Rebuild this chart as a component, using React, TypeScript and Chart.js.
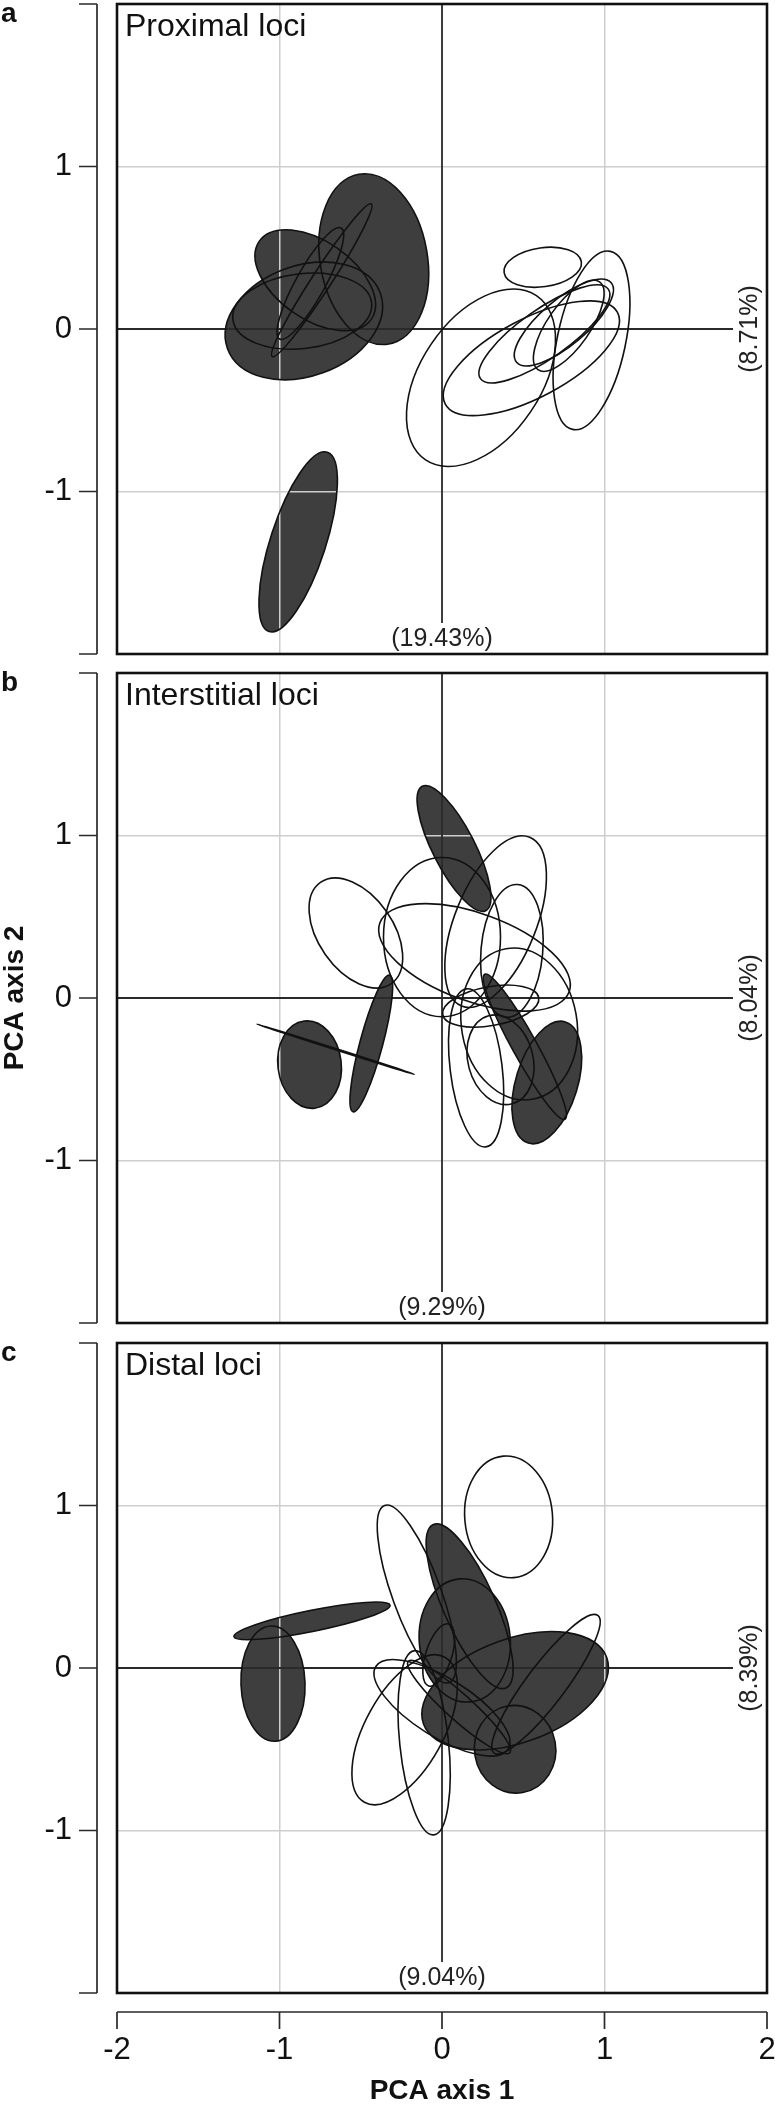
import React, { useEffect, useRef } from "react";
import { Chart, registerables } from "chart.js";

Chart.register(...registerables);

// Each ellipse: [centre on axis 1, centre on axis 2, semi-axis a, semi-axis b, angle of a (degrees)]
type Ellipse = [number, number, number, number, number];

const PANEL_LETTERS = ["a", "b", "c"];
const PANEL_TITLES = ["Proximal loci", "Interstitial loci", "Distal loci"];
const AXIS1_SHARE = ["(19.43%)", "(9.29%)", "(9.04%)"];
const AXIS2_SHARE = ["(8.71%)", "(8.04%)", "(8.39%)"];
const AXIS_TICKS = [-2, -1, 0, 1, 2];
const Y_LABELED_TICKS = [-1, 0, 1];
const X_AXIS_TITLE = "PCA axis 1";
const Y_AXIS_TITLE = "PCA axis 2";

const proximalFilled: Ellipse[] = [
  [-0.42, 0.43, 0.53, 0.33, 100],
  [-0.85, 0.05, 0.5, 0.34, 20],
  [-0.78, 0.3, 0.42, 0.24, -35],
  [-0.86, 0.11, 0.43, 0.23, 7],
  [-0.74, 0.3, 0.56, 0.06, 57],
  [-0.81, 0.28, 0.39, 0.09, 61],
  [-0.885, -1.31, 0.58, 0.17, 72],
];
const proximalOpen: Ellipse[] = [
  [0.24, -0.3, 0.61, 0.37, 56],
  [0.55, -0.18, 0.6, 0.24, 28],
  [0.63, -0.03, 0.48, 0.15, 35],
  [0.62, 0.38, 0.24, 0.12, 8],
  [0.92, -0.07, 0.56, 0.21, 78],
  [0.75, 0.04, 0.38, 0.14, 40],
  [0.78, 0.02, 0.33, 0.13, 55],
];

const interstitialFilled: Ellipse[] = [
  [0.074, 0.92, 0.43, 0.13, 117],
  [-0.815, -0.41, 0.27, 0.195, 97],
  [-0.435, -0.28, 0.435, 0.07, 75],
  [0.51, -0.3, 0.51, 0.075, 119],
  [0.645, -0.52, 0.39, 0.19, 73],
  [-0.655, -0.315, 0.51, 0.004, -17.7],
];
const interstitialOpen: Ellipse[] = [
  [-0.53, 0.4, 0.38, 0.23, 125],
  [0.0, 0.375, 0.49, 0.36, 90],
  [0.2, 0.25, 0.62, 0.27, -20],
  [0.33, 0.47, 0.56, 0.25, 68],
  [0.43, 0.29, 0.41, 0.19, 85],
  [0.475, -0.16, 0.47, 0.355, 100],
  [0.21, -0.43, 0.49, 0.16, 97],
  [0.36, -0.38, 0.28, 0.2, 105],
  [0.3, -0.05, 0.3, 0.12, 10],
];

const distalFilled: Ellipse[] = [
  [-0.8, 0.29, 0.49, 0.065, 11.4],
  [-1.04, -0.096, 0.355, 0.197, 92],
  [0.17, 0.38, 0.55, 0.16, 114],
  [0.14, 0.17, 0.38, 0.28, 95],
  [0.45, -0.14, 0.6, 0.32, 20],
  [0.45, -0.5, 0.27, 0.25, 100],
];
const distalOpen: Ellipse[] = [
  [0.41, 0.93, 0.375, 0.27, 95],
  [-0.155, 0.455, 0.58, 0.15, 110],
  [0.64, -0.1, 0.53, 0.12, 53],
  [-0.23, -0.38, 0.51, 0.24, 61],
  [-0.11, -0.46, 0.57, 0.15, 96],
  [0.0, -0.245, 0.48, 0.18, -32],
  [-0.02, 0.08, 0.2, 0.08, 72],
  [0.105, -0.24, 0.42, 0.08, -42],
];

const FONT = "'Liberation Sans', Arial, Helvetica, sans-serif";
const FILL = "#3e3e3e";
const INK = "#111111";
const AXIS_INK = "#2a2a2a";
const GRID = "#cecece";

Chart.defaults.font.family = FONT;

interface PanelSpec {
  index: number;
  top: number;
  height: number;
  padTop: number;
  padBottom: number;
  bottomAxis: boolean;
  yTitle: boolean;
  filled: Ellipse[];
  open: Ellipse[];
}

const PANELS: PanelSpec[] = [
  { index: 0, top: 0, height: 664, padTop: 4, padBottom: 10, bottomAxis: false, yTitle: false, filled: proximalFilled, open: proximalOpen },
  { index: 1, top: 664, height: 669, padTop: 9, padBottom: 10, bottomAxis: false, yTitle: true, filled: interstitialFilled, open: interstitialOpen },
  { index: 2, top: 1333, height: 772, padTop: 10, padBottom: 0, bottomAxis: true, yTitle: false, filled: distalFilled, open: distalOpen },
];

function toPoints(list: Ellipse[]) {
  return list.map(([x, y, a, b, ang]) => ({ x, y, a, b, ang }));
}

function traceEllipse(chart: any, p: any) {
  const ctx = chart.ctx;
  const xs = chart.scales.x;
  const ys = chart.scales.y;
  const px = xs.getPixelForValue(p.x);
  const py = ys.getPixelForValue(p.y);
  const sx = xs.getPixelForValue(p.x + 1) - px;
  const sy = py - ys.getPixelForValue(p.y + 1);
  ctx.save();
  ctx.translate(px, py);
  ctx.scale(sx, -sy);
  ctx.rotate((p.ang * Math.PI) / 180);
  ctx.beginPath();
  ctx.ellipse(0, 0, p.a, Math.max(p.b, 0.0005), 0, 0, Math.PI * 2);
  ctx.restore();
}

function makeDecor(spec: PanelSpec) {
  return {
    id: "pcaDecor" + spec.index,
    beforeDraw(chart: any) {
      const ctx = chart.ctx;
      const area = chart.chartArea;
      ctx.save();
      ctx.beginPath();
      ctx.rect(area.left, area.top, area.right - area.left, area.bottom - area.top);
      ctx.clip();
      ctx.fillStyle = FILL;
      for (const p of chart.data.datasets[0].data) {
        traceEllipse(chart, p);
        ctx.fill();
      }
      ctx.restore();
    },
    beforeDatasetsDraw(chart: any) {
      const ctx = chart.ctx;
      const area = chart.chartArea;
      const x0 = chart.scales.x.getPixelForValue(0);
      const y0 = chart.scales.y.getPixelForValue(0);
      ctx.save();
      ctx.strokeStyle = AXIS_INK;
      ctx.lineWidth = 1.8;
      ctx.beginPath();
      ctx.moveTo(area.left, y0);
      ctx.lineTo(area.right - 34, y0);
      ctx.moveTo(x0, area.top);
      ctx.lineTo(x0, area.bottom - 31);
      ctx.stroke();
      ctx.restore();
    },
    afterDatasetsDraw(chart: any) {
      const ctx = chart.ctx;
      const area = chart.chartArea;
      ctx.save();
      ctx.beginPath();
      ctx.rect(area.left, area.top, area.right - area.left, area.bottom - area.top);
      ctx.clip();
      ctx.strokeStyle = INK;
      ctx.lineWidth = 1.6;
      for (const ds of chart.data.datasets) {
        for (const p of ds.data) {
          traceEllipse(chart, p);
          ctx.stroke();
        }
      }
      ctx.restore();
    },
    afterDraw(chart: any) {
      const ctx = chart.ctx;
      const area = chart.chartArea;
      const xs = chart.scales.x;
      const ys = chart.scales.y;
      const x0 = xs.getPixelForValue(0);
      const y0 = ys.getPixelForValue(0);
      ctx.save();
      // frame
      ctx.strokeStyle = INK;
      ctx.lineWidth = 2.6;
      ctx.strokeRect(area.left, area.top, area.right - area.left, area.bottom - area.top);
      // detached y axis
      ctx.strokeStyle = AXIS_INK;
      ctx.lineWidth = 1.7;
      const ax = area.left - 20;
      ctx.beginPath();
      ctx.moveTo(ax, ys.getPixelForValue(AXIS_TICKS[AXIS_TICKS.length - 1]));
      ctx.lineTo(ax, ys.getPixelForValue(AXIS_TICKS[0]));
      for (const t of AXIS_TICKS) {
        const y = ys.getPixelForValue(t);
        ctx.moveTo(ax, y);
        ctx.lineTo(ax - 18, y);
      }
      ctx.stroke();
      if (spec.bottomAxis) {
        const ay = area.bottom + 19;
        ctx.beginPath();
        ctx.moveTo(xs.getPixelForValue(AXIS_TICKS[0]), ay);
        ctx.lineTo(xs.getPixelForValue(AXIS_TICKS[AXIS_TICKS.length - 1]), ay);
        for (const t of AXIS_TICKS) {
          const x = xs.getPixelForValue(t);
          ctx.moveTo(x, ay);
          ctx.lineTo(x, ay + 17);
        }
        ctx.stroke();
      }
      // texts
      ctx.fillStyle = INK;
      ctx.textAlign = "left";
      ctx.textBaseline = "alphabetic";
      ctx.font = `32px ${FONT}`;
      ctx.fillText(PANEL_TITLES[spec.index], area.left + 8, area.top + 32);
      ctx.font = `bold 28px ${FONT}`;
      ctx.fillText(PANEL_LETTERS[spec.index], 1, area.top + 18);
      ctx.fillStyle = "#222";
      ctx.font = `25px ${FONT}`;
      ctx.textAlign = "center";
      ctx.textBaseline = "middle";
      ctx.fillText(AXIS1_SHARE[spec.index], x0, area.bottom - 15);
      ctx.translate(area.right - 17, y0);
      ctx.rotate(-Math.PI / 2);
      ctx.fillText(AXIS2_SHARE[spec.index], 0, 0);
      ctx.restore();
    },
  };
}

function gridColor(c: any) {
  const v = c.tick ? c.tick.value : 0;
  return Math.abs(v) === 1 ? GRID : "rgba(0,0,0,0)";
}

function buildConfig(spec: PanelSpec): any {
  return {
    type: "scatter",
    data: {
      datasets: [
        { label: "filled", data: toPoints(spec.filled), pointRadius: 0, pointHoverRadius: 0, showLine: false },
        { label: "open", data: toPoints(spec.open), pointRadius: 0, pointHoverRadius: 0, showLine: false },
      ],
    },
    options: {
      responsive: false,
      animation: false,
      devicePixelRatio: 1,
      events: [],
      layout: { padding: { left: 0, right: 8, top: spec.padTop, bottom: spec.padBottom } },
      plugins: { legend: { display: false }, tooltip: { enabled: false } },
      scales: {
        x: {
          type: "linear",
          min: -2,
          max: 2,
          ticks: {
            display: spec.bottomAxis,
            stepSize: 1,
            padding: 39,
            maxRotation: 0,
            autoSkip: false,
            color: INK,
            font: { size: 31, family: FONT },
            callback: (v: any) => String(v),
          },
          grid: { drawTicks: false, lineWidth: 1.5, color: gridColor },
          border: { display: false },
          title: {
            display: spec.bottomAxis,
            text: X_AXIS_TITLE,
            color: INK,
            font: { size: 28, weight: "bold", family: FONT, lineHeight: 1 },
            padding: { top: 0, bottom: 0 },
          },
          afterFit: (s: any) => {
            s.height = spec.bottomAxis ? 112 : 0;
            s.paddingLeft = 0;
            s.paddingRight = 0;
          },
        },
        y: {
          type: "linear",
          position: "left",
          min: -2,
          max: 2,
          ticks: {
            stepSize: 1,
            padding: 45,
            autoSkip: false,
            color: INK,
            font: { size: 31, family: FONT },
            callback: (v: any) => (Y_LABELED_TICKS.includes(Number(v)) ? String(v) : ""),
          },
          grid: { drawTicks: false, lineWidth: 1.5, color: gridColor },
          border: { display: false },
          title: {
            display: spec.yTitle,
            text: Y_AXIS_TITLE,
            color: INK,
            font: { size: 28, weight: "bold", family: FONT, lineHeight: 1 },
            padding: { top: 1, bottom: 0 },
          },
          afterFit: (s: any) => {
            s.width = 117;
            s.paddingTop = 0;
            s.paddingBottom = 0;
          },
        },
      },
    },
    plugins: [makeDecor(spec)],
  };
}

export default function App() {
  const r0 = useRef<HTMLCanvasElement>(null);
  const r1 = useRef<HTMLCanvasElement>(null);
  const r2 = useRef<HTMLCanvasElement>(null);
  const refs = [r0, r1, r2];

  useEffect(() => {
    const charts = PANELS.map((spec, i) => new Chart(refs[i].current as HTMLCanvasElement, buildConfig(spec)));
    return () => charts.forEach((c) => c.destroy());
  }, []);

  return (
    <div style={{ position: "absolute", left: 0, top: 0, width: 775, height: 2105, background: "#ffffff" }}>
      {PANELS.map((p, i) => (
        <canvas
          key={i}
          ref={refs[i]}
          width={775}
          height={p.height}
          style={{ position: "absolute", left: 0, top: p.top, width: 775, height: p.height }}
        />
      ))}
    </div>
  );
}
